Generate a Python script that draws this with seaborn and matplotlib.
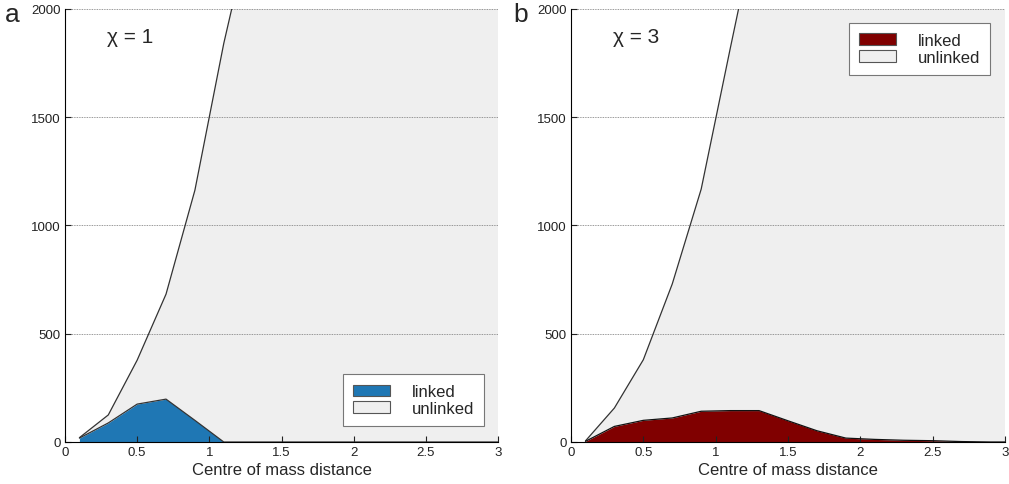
import numpy as np
import pandas as pd
import matplotlib
matplotlib.use("Agg")
import matplotlib.pyplot as plt
from matplotlib.patches import Patch
import seaborn as sns

# Bin centres of the centre-of-mass distance histogram
distance = [0.1, 0.3, 0.5, 0.7, 0.9, 1.1, 1.3, 1.5, 1.7, 1.9, 2.1, 2.3, 2.5, 2.7, 2.9, 3.1]

# chi = 1: linked pairs and all pairs (linked + unlinked, stacked total)
linked_chi1 = [18, 88, 175, 198, 100, 0, 0, 0, 0, 0, 0, 0, 0, 0, 0, 0]
total_chi1 = [20, 125, 378, 683, 1163, 1841, 2420, 3150, 3900, 4700, 5500, 6300, 7100, 7800, 8500, 9100]

# chi = 3
linked_chi3 = [3, 72, 100, 111, 142, 145, 145, 98, 52, 18, 12, 8, 6, 2, 0, 0]
total_chi3 = [5, 157, 380, 730, 1168, 1815, 2450, 3150, 3900, 4700, 5500, 6300, 7100, 7800, 8500, 9100]

x_ticks = [0, 0.5, 1, 1.5, 2, 2.5, 3]
x_tick_labels = ["0", "0.5", "1", "1.5", "2", "2.5", "3"]
y_ticks = [0, 500, 1000, 1500, 2000]

sns.set_style("ticks")
plt.rcParams["font.family"] = ["Liberation Sans", "DejaVu Sans"]

fig = plt.figure(figsize=(10.09, 4.85), dpi=100)
ax_a = fig.add_axes([0.0644, 0.0866, 0.4292, 0.8928])
ax_b = fig.add_axes([0.5659, 0.0866, 0.4301, 0.8928])

panels = [
    (ax_a, linked_chi1, total_chi1, "#1f77b4", "#333333", "χ = 1", "a", 0.012,
     "lower right", (0.968, 0.037)),
    (ax_b, linked_chi3, total_chi3, "#800000", "#111111", "χ = 3", "b", 0.516,
     "upper right", (0.965, 0.968)),
]

unlinked_face = "#efefef"

for ax, linked, total, color, edge, chi_text, letter, letter_x, loc, anchor in panels:
    df = pd.DataFrame({"distance": distance, "linked": linked, "total": total})

    # stacked areas: unlinked on top of linked
    ax.fill_between(df["distance"], df["linked"], df["total"], color=unlinked_face,
                    linewidth=0, zorder=1)
    ax.fill_between(df["distance"], 0, df["linked"], color=color, linewidth=0, zorder=2)

    sns.lineplot(data=df, x="distance", y="total", ax=ax, color="#333333",
                 linewidth=0.9, zorder=3)
    sns.lineplot(data=df, x="distance", y="linked", ax=ax, color=edge,
                 linewidth=0.9, zorder=4)

    ax.set_xlim(0, 3)
    ax.set_ylim(0, 2000)
    ax.set_xticks(x_ticks)
    ax.set_xticklabels(x_tick_labels)
    ax.set_yticks(y_ticks)
    ax.set_xlabel("Centre of mass distance", fontsize=12, labelpad=3)
    ax.set_ylabel("")

    ax.yaxis.grid(True, linestyle=(0, (1, 1)), color="#777777", linewidth=0.6)
    ax.set_axisbelow(False)
    for gl in ax.get_ygridlines():
        gl.set_zorder(5)

    ax.tick_params(axis="both", direction="in", length=4, width=0.8, labelsize=9.5,
                   colors="#222222", pad=3, top=False, right=False)
    ax.spines["top"].set_visible(False)
    ax.spines["right"].set_visible(False)
    ax.spines["left"].set_color("black")
    ax.spines["bottom"].set_color("black")
    ax.spines["left"].set_zorder(6)
    ax.spines["bottom"].set_zorder(6)

    ax.text(0.45, 1873, chi_text, fontsize=15, ha="center", va="center", zorder=7)
    fig.text(letter_x, 0.969, letter, fontsize=19, ha="center", va="center")

    handles = [
        Patch(facecolor=color, edgecolor="#555555", linewidth=0.8, label="linked"),
        Patch(facecolor=unlinked_face, edgecolor="#555555", linewidth=0.8, label="unlinked"),
    ]
    leg = ax.legend(handles=handles, loc=loc, bbox_to_anchor=anchor, fontsize=12,
                    frameon=True, fancybox=False, handlelength=2.2, handleheight=0.7,
                    handletextpad=1.3, borderpad=0.6, borderaxespad=0,
                    labelspacing=0.1)
    leg.get_frame().set_edgecolor("#777777")
    leg.get_frame().set_linewidth(0.8)
    leg.get_frame().set_alpha(1)
    leg.set_zorder(8)

fig.savefig("out.png", dpi=100)
